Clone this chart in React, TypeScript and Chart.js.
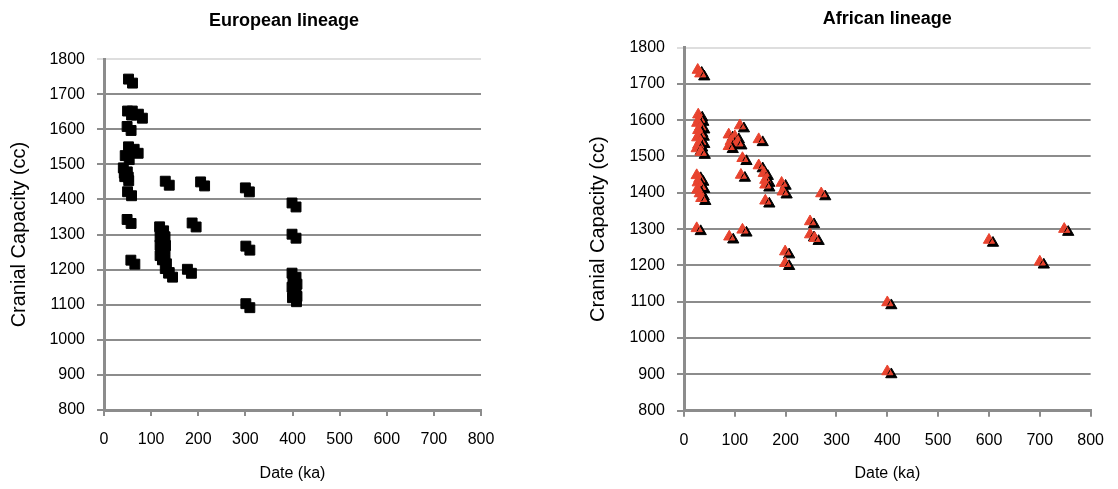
import React, { useEffect, useRef } from 'react';
import { Chart, registerables } from 'chart.js';

Chart.register(...registerables);

// ---------- data ----------
const xTicks = [0, 100, 200, 300, 400, 500, 600, 700, 800];
const yTicks = [800, 900, 1000, 1100, 1200, 1300, 1400, 1500, 1600, 1700, 1800];

const euroDate = [
  52, 50, 60, 73, 49, 52, 64, 45, 41, 43, 44, 50,
  130, 205, 300, 399, 49,
  118, 121, 119, 122, 119, 121, 119, 124, 130, 137,
  187, 399, 57, 177, 301,
  399, 401, 399, 401, 400, 301,
];
const euroCC = [
  1743, 1652, 1652, 1643, 1608, 1550, 1543, 1525, 1490, 1475, 1465, 1422,
  1452, 1450, 1433, 1390, 1343,
  1322, 1305, 1293, 1280, 1270, 1256, 1240, 1228, 1203, 1190,
  1333, 1301, 1227, 1201, 1267,
  1190, 1170, 1150, 1135, 1120, 1103,
];

const afrDate = [
  27, 32,
  28, 30, 26, 32, 28, 31, 26, 32, 28, 25, 33,
  25, 30, 27, 32, 26, 31, 34,
  25, 89, 115,
  88, 100, 92, 105, 88,
  110, 147, 115, 112, 147, 157, 160, 160, 160,
  192, 194, 270, 248, 248, 257, 199, 199,
  400, 400, 600, 700, 748,
];
const afrCC = [
  1738, 1728,
  1615, 1603, 1592, 1582, 1572, 1562, 1552, 1542, 1532, 1522, 1512,
  1448, 1438, 1428, 1418, 1408, 1398, 1385,
  1302, 1279, 1298,
  1560, 1555, 1542, 1538, 1528,
  1585, 1547, 1495, 1449, 1475, 1454, 1435, 1422, 1378,
  1427, 1403, 1398, 1321, 1285, 1275, 1238, 1206,
  1098, 908, 1270, 1210, 1300,
];

const FONT = "'Liberation Sans', Arial, Helvetica, sans-serif";
const GRID = '#8c8c8c';

const shadowPlugin = {
  id: 'markerShadow',
  beforeDatasetDraw(chart: any, _args: any, opts: any) {
    const ctx = chart.ctx;
    ctx.save();
    ctx.shadowColor = '#000000';
    ctx.shadowBlur = 0;
    ctx.shadowOffsetX = opts.dx ?? 4;
    ctx.shadowOffsetY = opts.dy ?? 4;
  },
  afterDatasetDraw(chart: any) {
    chart.ctx.restore();
  },
};

interface P {
  dates: number[];
  ccs: number[];
  title: string;
  pointStyle: string;
  color: string;
  radius: number;
  titlePadTop: number;
  titlePadBottom: number;
  titleFullSize: boolean;
  yTitlePad: number;
  yWidth: number;
  xHeight: number;
  rightPad: number;
  rightSpacer: number;
  shadow: { dx: number; dy: number };
}

function makeConfig(p: P): any {
  const scales: any = {
    x: {
      type: 'linear',
      min: 0,
      max: 800,
      afterBuildTicks: (s: any) => {
        s.ticks = xTicks.map((v) => ({ value: v }));
      },
      afterFit: (s: any) => {
        s.height = p.xHeight;
      },
      ticks: {
        color: '#000',
        font: { family: FONT, size: 16 },
        padding: 14,
        maxRotation: 0,
        callback: (v: any) => String(v),
      },
      grid: { drawOnChartArea: false, drawTicks: true, tickLength: 6, color: GRID, lineWidth: 2 },
      border: { display: true, color: GRID, width: 3 },
      title: {
        display: true,
        text: 'Date (ka)',
        color: '#000',
        font: { family: FONT, size: 16, lineHeight: 1.2 },
        padding: { top: 4, bottom: 6 },
      },
    },
    y: {
      type: 'linear',
      min: 800,
      max: 1800,
      afterBuildTicks: (s: any) => {
        s.ticks = yTicks.map((v) => ({ value: v }));
      },
      afterFit: (s: any) => {
        s.width = p.yWidth;
      },
      ticks: {
        color: '#000',
        font: { family: FONT, size: 16 },
        padding: 12,
        callback: (v: any) => String(v),
      },
      grid: {
        drawOnChartArea: true,
        drawTicks: true,
        tickLength: 7,
        color: (c: any) => (c.tick && c.tick.value === 1800 ? '#dedede' : GRID),
        lineWidth: 2,
      },
      border: { display: true, color: GRID, width: 3 },
      title: {
        display: true,
        text: 'Cranial Capacity (cc)',
        color: '#000',
        font: { family: FONT, size: 20, lineHeight: 1.2 },
        padding: { top: p.yTitlePad, bottom: 0 },
      },
    },
  };
  if (p.rightSpacer > 0) {
    scales.ySpacer = {
      type: 'linear',
      position: 'right',
      min: 800,
      max: 1800,
      display: true,
      ticks: { display: false },
      grid: { display: false, drawTicks: false },
      border: { display: false },
      title: { display: false },
      afterFit: (s: any) => {
        s.width = p.rightSpacer;
      },
    };
  }
  return {
    type: 'scatter',
    data: {
      datasets: [
        {
          data: p.dates.map((d, i) => ({ x: d, y: p.ccs[i] })),
          yAxisID: 'y',
          pointStyle: p.pointStyle,
          pointRadius: p.radius,
          pointBackgroundColor: p.color,
          pointBorderColor: p.color,
          pointBorderWidth: 1,
          showLine: false,
        },
      ],
    },
    options: {
      responsive: false,
      animation: false,
      events: [],
      layout: { padding: { left: 0, right: p.rightPad, top: 0, bottom: 0 } },
      plugins: {
        legend: { display: false },
        tooltip: { enabled: false },
        markerShadow: p.shadow,
        title: {
          display: true,
          text: p.title,
          fullSize: p.titleFullSize,
          color: '#000',
          font: { family: FONT, size: 18, weight: 'bold', lineHeight: 1.2 },
          padding: { top: p.titlePadTop, bottom: p.titlePadBottom },
        },
      },
      scales,
    },
    plugins: [shadowPlugin],
  };
}

function ChartBox({ left, width, cfg }: { left: number; width: number; cfg: P }) {
  const ref = useRef<HTMLCanvasElement | null>(null);
  useEffect(() => {
    if (!ref.current) return;
    const chart = new Chart(ref.current, makeConfig(cfg));
    return () => chart.destroy();
  }, []);
  return (
    <canvas
      ref={ref}
      width={width}
      height={489}
      style={{ position: 'absolute', left, top: 0, width, height: 489, display: 'block' }}
    />
  );
}

export default function App() {
  return (
    <div style={{ position: 'absolute', left: 0, top: 0, width: 1118, height: 489, background: '#fff', overflow: 'hidden' }}>
      <ChartBox
        left={0}
        width={568}
        cfg={{
          dates: euroDate,
          ccs: euroCC,
          title: 'European lineage',
          pointStyle: 'rect',
          color: '#000000',
          radius: 7,
          titlePadTop: 10,
          titlePadBottom: 27.5,
          titleFullSize: true,
          yTitlePad: 7,
          yWidth: 104,
          xHeight: 79,
          rightPad: 0,
          rightSpacer: 87,
          shadow: { dx: 4, dy: 4 },
        }}
      />
      <ChartBox
        left={580}
        width={538}
        cfg={{
          dates: afrDate,
          ccs: afrCC,
          title: 'African lineage',
          pointStyle: 'triangle',
          color: '#e8432e',
          radius: 6.5,
          titlePadTop: 8.2,
          titlePadBottom: 17.7,
          titleFullSize: false,
          yTitlePad: 6,
          yWidth: 104,
          xHeight: 78.3,
          rightPad: 21,
          rightSpacer: 0,
          shadow: { dx: 4, dy: 3 },
        }}
      />
    </div>
  );
}
